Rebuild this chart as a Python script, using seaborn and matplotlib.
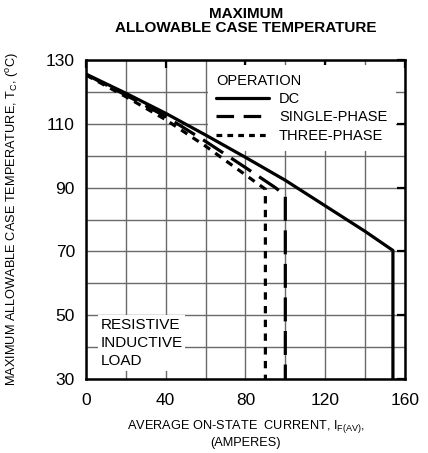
import numpy as np
import pandas as pd
import matplotlib
matplotlib.use("Agg")
import matplotlib.pyplot as plt
import seaborn as sns
from matplotlib.lines import Line2D

dc_current = [0, 20, 40, 60, 80, 100, 120, 140, 154, 154]
dc_temp = [125.6, 119.6, 113.3, 106.5, 99.5, 92.3, 84.3, 76.3, 70.3, 30]

single_current = [0, 20, 40, 60, 80, 95, 100, 100]
single_temp = [125.5, 119.0, 112.3, 104.5, 96.3, 90.0, 87.5, 30]

three_current = [0, 20, 40, 60, 80, 90, 90]
three_temp = [125.3, 118.5, 111.3, 103.0, 94.0, 89.5, 30]

series_names = ["DC", "SINGLE-PHASE", "THREE-PHASE"]

frames = []
for name, xs, ys in [("DC", dc_current, dc_temp),
                     ("SINGLE-PHASE", single_current, single_temp),
                     ("THREE-PHASE", three_current, three_temp)]:
    frames.append(pd.DataFrame({"current": xs, "temp": ys, "op": name}))
df = pd.concat(frames, ignore_index=True)

sns.set_theme(style="white")
plt.rcParams["font.family"] = ["Liberation Sans", "DejaVu Sans"]
plt.rcParams["mathtext.fontset"] = "custom"
plt.rcParams["mathtext.rm"] = "Liberation Sans"
plt.rcParams["mathtext.it"] = "Liberation Sans"
plt.rcParams["text.color"] = "black"
plt.rcParams["axes.labelcolor"] = "black"
plt.rcParams["xtick.color"] = "black"
plt.rcParams["ytick.color"] = "black"

fig = plt.figure(figsize=(4.28, 4.53), dpi=100)
ax = fig.add_axes([0.201, 0.1634, 0.745, 0.704])

lw = 2.3
dash_styles = {"DC": "", "SINGLE-PHASE": (7.5, 3.0), "THREE-PHASE": (2.3, 2.0)}
sns.lineplot(data=df, x="current", y="temp", hue="op", style="op",
             units="op", estimator=None, sort=False,
             palette=["black"] * 3, dashes=dash_styles, linewidth=lw,
             legend=False, ax=ax, zorder=3)

ax.set_xlim(0, 160)
ax.set_ylim(30, 130)
ax.set_xticks(np.arange(0, 161, 40))
ax.set_yticks(np.arange(30, 131, 20))
ax.set_xticks(np.arange(0, 161, 20), minor=True)
ax.set_yticks(np.arange(30, 131, 10), minor=True)
ax.grid(True, which="both", color="#6a6a6a", linewidth=1.0)
ax.set_axisbelow(True)
ax.tick_params(which="major", direction="in", length=6, width=1.6,
               top=True, right=True, labelsize=12.5, color="black")
ax.tick_params(which="minor", length=0)
ax.tick_params(axis="y", pad=8)
ax.tick_params(axis="x", pad=10)
for s in ax.spines.values():
    s.set_color("black")
    s.set_linewidth(1.8)

ax.set_xlabel("AVERAGE ON-STATE  CURRENT, I$_{F(AV)}$,\n(AMPERES)",
              fontsize=9.2, labelpad=7, linespacing=1.3)
ax.set_ylabel("MAXIMUM ALLOWABLE CASE TEMPERATURE, T$_C$, ($^o$C)",
              fontsize=9.2, labelpad=18)
fig.text(0.574, 0.985, "MAXIMUM\nALLOWABLE CASE TEMPERATURE",
         ha="center", va="top", fontsize=11, fontweight="bold", linespacing=1.0)

handles = [Line2D([], [], color="black", lw=lw, linestyle="-"),
           Line2D([], [], color="black", lw=lw, dashes=(5.5, 3.0)),
           Line2D([], [], color="black", lw=lw, dashes=(1.8, 1.6))]
leg = ax.legend(handles, series_names, title="OPERATION", loc="upper right",
                bbox_to_anchor=(0.972, 0.985), borderaxespad=0,
                frameon=True, fancybox=False, edgecolor="none",
                facecolor="white", framealpha=1, alignment="left",
                fontsize=10.5, title_fontsize=10.5, handlelength=3.6,
                handletextpad=0.7, labelspacing=0.3, borderpad=0.6)
leg.get_frame().set_linewidth(0)
leg.set_zorder(1.5)

ax.text(0.045, 0.035, "RESISTIVE\nINDUCTIVE\nLOAD", transform=ax.transAxes,
        ha="left", va="bottom", fontsize=11, linespacing=1.35, zorder=1.5,
        bbox=dict(facecolor="white", edgecolor="none", pad=2))

fig.savefig("out.png", dpi=100)
